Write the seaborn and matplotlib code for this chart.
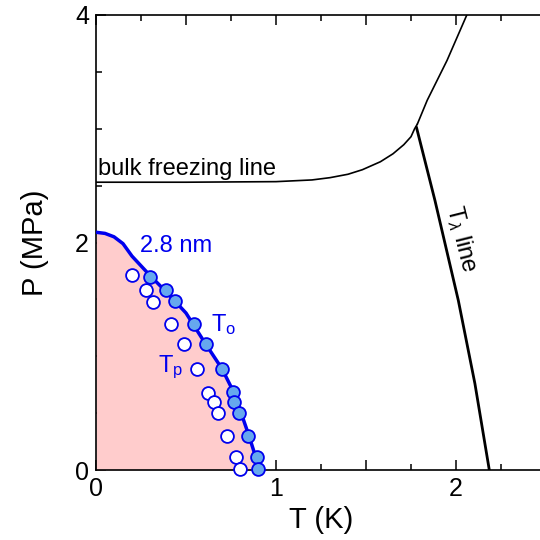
import numpy as np
import pandas as pd
import matplotlib
matplotlib.use("Agg")
import matplotlib.pyplot as plt
from matplotlib.ticker import MultipleLocator, FuncFormatter
import seaborn as sns

# Phase-diagram data (T in K, P in MPa)
curve_T = [0.00, 0.05, 0.10, 0.15, 0.20, 0.30, 0.40, 0.50, 0.60, 0.70, 0.76, 0.80, 0.85, 0.89, 0.92]
curve_P = [2.09, 2.08, 2.05, 1.99, 1.88, 1.71, 1.55, 1.38, 1.13, 0.89, 0.70, 0.53, 0.30, 0.10, 0.00]

To_T = [0.30, 0.39, 0.44, 0.546, 0.61, 0.70, 0.76, 0.767, 0.796, 0.843, 0.893, 0.90]
To_P = [1.70, 1.58, 1.49, 1.28, 1.11, 0.89, 0.69, 0.60, 0.50, 0.30, 0.11, 0.01]

Tp_T = [0.20, 0.278, 0.318, 0.415, 0.49, 0.56, 0.62, 0.657, 0.68, 0.73, 0.78, 0.80]
Tp_P = [1.71, 1.58, 1.48, 1.28, 1.11, 0.89, 0.68, 0.60, 0.50, 0.30, 0.11, 0.01]

freeze_T = [0.00, 0.50, 1.00, 1.20, 1.30, 1.40, 1.48, 1.58, 1.65, 1.71, 1.75, 1.77, 1.785]
freeze_P = [2.53, 2.53, 2.535, 2.55, 2.57, 2.60, 2.64, 2.71, 2.78, 2.86, 2.93, 3.00, 3.04]

melt_T = [1.785, 1.84, 1.95, 2.06]
melt_P = [3.04, 3.25, 3.60, 4.00]

lambda_T = [1.78, 1.883, 2.013, 2.105, 2.185]
lambda_P = [3.015, 2.37, 1.49, 0.76, 0.00]

sns.set_theme(style="ticks")
plt.rcParams["font.family"] = ["Liberation Sans", "DejaVu Sans"]
plt.rcParams["mathtext.fontset"] = "custom"
plt.rcParams["mathtext.rm"] = "Liberation Sans"
plt.rcParams["mathtext.it"] = "Liberation Sans:italic"
plt.rcParams["text.color"] = "black"
plt.rcParams["axes.labelcolor"] = "black"

fig = plt.figure(figsize=(5.4, 5.4), dpi=100)
ax = fig.add_axes([96 / 540, 70 / 540, 450 / 540, 455 / 540])

blue = "#0000ee"

# shaded region under the 2.8 nm curve
ax.fill_between(curve_T, curve_P, 0, color="#ffcccc", lw=0, zorder=1)

df_curve = pd.DataFrame({"T": curve_T, "P": curve_P})
sns.lineplot(data=df_curve, x="T", y="P", sort=False, color=blue, lw=2.5, ax=ax, zorder=3)

df_freeze = pd.DataFrame({"T": freeze_T, "P": freeze_P})
sns.lineplot(data=df_freeze, x="T", y="P", sort=False, color="black", lw=1.2, ax=ax, zorder=2)
df_melt = pd.DataFrame({"T": melt_T, "P": melt_P})
sns.lineplot(data=df_melt, x="T", y="P", sort=False, color="black", lw=1.2, ax=ax, zorder=2)
df_lam = pd.DataFrame({"T": lambda_T, "P": lambda_P})
sns.lineplot(data=df_lam, x="T", y="P", sort=False, color="black", lw=2.0, ax=ax, zorder=2)

df_tp = pd.DataFrame({"T": Tp_T, "P": Tp_P})
sns.scatterplot(data=df_tp, x="T", y="P", s=85, facecolor="white", edgecolor=blue,
                linewidth=1.3, ax=ax, zorder=4, clip_on=False)
df_to = pd.DataFrame({"T": To_T, "P": To_P})
sns.scatterplot(data=df_to, x="T", y="P", s=85, facecolor="#66a8ee", edgecolor=blue,
                linewidth=1.3, ax=ax, zorder=5, clip_on=False)

ax.set_xlim(0, 2.5)
ax.set_ylim(0, 4)
ax.xaxis.set_major_locator(MultipleLocator(0.5))
ax.xaxis.set_major_formatter(FuncFormatter(lambda v, p: f"{v:.0f}" if abs(v - round(v)) < 1e-6 else ""))
ax.xaxis.set_minor_locator(MultipleLocator(0.25))
ax.yaxis.set_major_locator(MultipleLocator(2))
ax.yaxis.set_minor_locator(MultipleLocator(0.5))
ax.tick_params(which="both", direction="in", top=True, right=False, width=1.1,
               color="black", labelcolor="black")
ax.tick_params(which="major", length=7, labelsize=18, pad=5)
ax.tick_params(which="minor", length=4)
for sp in ax.spines.values():
    sp.set_linewidth(1.2)
    sp.set_color("black")

ax.set_xlabel("T (K)", fontsize=21, labelpad=4)
ax.set_ylabel("P (MPa)", fontsize=21)
ax.yaxis.set_label_coords(-0.105, 0.5)

ax.text(0.012, 2.59, "bulk freezing line", fontsize=17, va="baseline", ha="left")
ax.text(0.244, 1.92, "2.8 nm", fontsize=17, color=blue, va="baseline", ha="left")
ax.text(0.637, 1.22, r"T$_\mathregular{o}$", fontsize=17, color=blue, va="baseline", ha="left")
ax.text(0.344, 0.86, r"T$_\mathregular{p}$", fontsize=17, color=blue, va="baseline", ha="left")
ax.text(2.03, 2.03, r"T$_\lambda$ line", fontsize=17, rotation=-76,
        rotation_mode="anchor", ha="center", va="center")

fig.savefig("out.png", dpi=100)
